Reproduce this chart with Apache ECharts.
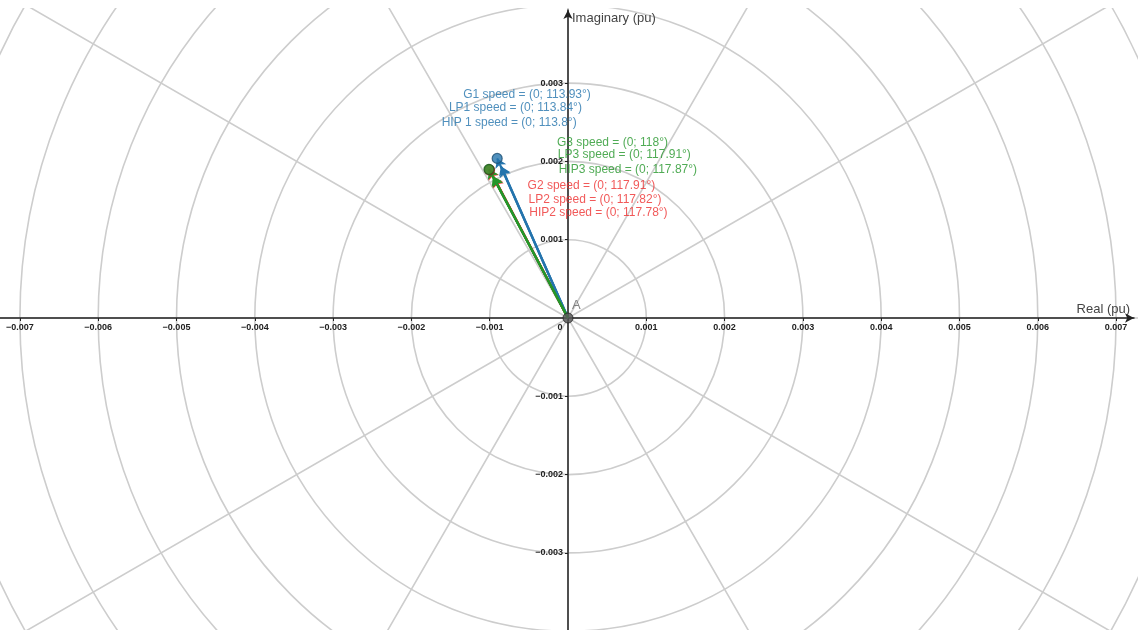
<!DOCTYPE html>
<html>
<head>
<meta charset="utf-8">
<script src="https://cdn.jsdelivr.net/npm/echarts@6/dist/echarts.min.js"></script>
<style>
  html, body { margin: 0; padding: 0; background: #fff; }
  #chart { width: 1138px; height: 630px; }
</style>
</head>
<body>
<div id="chart"></div>
<script>
// phasor names, angles (deg) and magnitudes (pu)
const names      = ['G1', 'LP1', 'HIP 1', 'G2', 'LP2', 'HIP2', 'G3', 'LP3', 'HIP3'];
const angles     = [113.93, 113.84, 113.8, 117.91, 117.82, 117.78, 118, 117.91, 117.87];
const magnitudes = [0.00223, 0.00212, 0.00210, 0.00214, 0.00204, 0.00202, 0.00215, 0.00205, 0.00203];
const groups     = [0, 0, 0, 1, 1, 1, 2, 2, 2];
const pointNames = ['G2', 'G1', 'G3'];

const xTicks = [-0.007, -0.006, -0.005, -0.004, -0.003, -0.002, -0.001, 0, 0.001, 0.002, 0.003, 0.004, 0.005, 0.006, 0.007];
const yTicks = [-0.003, -0.002, -0.001, 0.001, 0.002, 0.003];

// layout / style
const colors = ['#2474ad', '#ee2f2f', '#24962a'];
const dark   = ['#1d4f73', '#8a1f1f', '#1d5a1d'];
const captionOffsets = [[-34, -64], [-52, -58], [-60, -45], [38, 16], [35, 23], [35, 35], [68, -27], [65, -21], [65, -8]];
const W = 1138, H = 630, OX = 568, OY = 318, PX = 78300; // px per pu
const gridRight = 4, gridTop = 10;
const FONT = 'Liberation Sans, Arial, sans-serif';

const tips = names.map((n, i) => {
    const a = angles[i] * Math.PI / 180;
    return [magnitudes[i] * Math.cos(a), magnitudes[i] * Math.sin(a)];
});

const fmt = v => v === 0 ? '{z|0}' : (v < 0 ? '\u2212' : '') + Math.abs(v).toFixed(3);

const chart = echarts.init(document.getElementById('chart'));

// draw order: red, blue, green
const order = [3, 4, 5, 0, 1, 2, 6, 7, 8];

chart.setOption({
    animation: false,
    backgroundColor: '#fff',
    polar: { center: [OX, OY], radius: 0.009 * PX },
    angleAxis: {
        type: 'value', min: 0, max: 360, interval: 30,
        startAngle: 0, clockwise: false, z: 0,
        axisLine: { show: false }, axisTick: { show: false }, axisLabel: { show: false },
        splitLine: { show: true, lineStyle: { color: '#cdcdcd', width: 1.6 } }
    },
    radiusAxis: {
        type: 'value', min: 0, max: 0.009, interval: 0.001, z: 0,
        axisLine: { show: false }, axisTick: { show: false }, axisLabel: { show: false },
        splitLine: { show: true, lineStyle: { color: '#cdcdcd', width: 1.6 } }
    },
    graphic: [{
        type: 'rect', z: 1, silent: true,
        shape: { x: 0, y: 0, width: W, height: 8 },
        style: { fill: '#fff' }
    }],
    grid: { left: 0, right: gridRight, top: gridTop, bottom: 0, containLabel: false, outerBoundsMode: 'none' },
    xAxis: {
        type: 'value', z: 2, position: 'bottom', offset: -(H - OY),
        min: -OX / PX, max: (W - gridRight - OX) / PX,
        name: 'Real (pu)', nameLocation: 'end', nameGap: -4,
        nameTextStyle: { align: 'right', verticalAlign: 'bottom', fontFamily: FONT, fontSize: 13, color: '#444', padding: [0, 0, 2, 0] },
        axisLine: { onZero: false, lineStyle: { color: '#222', width: 1.5 }, symbol: ['none', 'arrow'], symbolSize: [7, 9] },
        axisTick: { show: true, length: 3, customValues: xTicks, lineStyle: { color: '#222' } },
        splitLine: { show: false },
        axisLabel: {
            customValues: xTicks, margin: 5, formatter: fmt,
            fontFamily: FONT, fontSize: 9, fontWeight: 'bold', color: '#222',
            rich: { z: { fontFamily: FONT, fontSize: 9, fontWeight: 'bold', color: '#222', padding: [0, 16, 0, 0] } }
        }
    },
    yAxis: {
        type: 'value', z: 2, position: 'left', offset: -OX,
        min: -(H - OY) / PX, max: (OY - gridTop) / PX,
        name: 'Imaginary (pu)', nameLocation: 'end', nameGap: -8,
        nameTextStyle: { align: 'left', verticalAlign: 'middle', fontFamily: FONT, fontSize: 13, color: '#444', padding: [0, 0, 0, 4] },
        axisLine: { onZero: false, lineStyle: { color: '#222', width: 1.5 }, symbol: ['none', 'arrow'], symbolSize: [7, 9] },
        axisTick: { show: true, length: 3, customValues: yTicks, lineStyle: { color: '#222' } },
        splitLine: { show: false },
        axisLabel: {
            customValues: yTicks, margin: 5, formatter: fmt,
            fontFamily: FONT, fontSize: 9, fontWeight: 'bold', color: '#222'
        }
    },
    series: [
        {
            type: 'lines', coordinateSystem: 'cartesian2d', z: 3,
            symbol: ['none', 'arrow'], symbolSize: 9, silent: true,
            data: order.map(i => ({
                coords: [[0, 0], tips[i]],
                lineStyle: { color: colors[groups[i]], width: 2.2, opacity: 1 }
            }))
        },
        {
            type: 'scatter', z: 4, symbolSize: 10, silent: true,
            data: pointNames.map(n => {
                const i = names.indexOf(n);
                return {
                    value: tips[i],
                    itemStyle: { color: colors[groups[i]], borderColor: dark[groups[i]], borderWidth: 1.2 }
                };
            })
        },
        {
            type: 'scatter', z: 5, symbolSize: 10, silent: true,
            data: [{ value: [0, 0] }],
            itemStyle: { color: '#5a5a5a', borderColor: '#222', borderWidth: 1 },
            label: {
                show: true, formatter: 'A', position: 'inside', align: 'left', verticalAlign: 'middle',
                offset: [4, -13], fontFamily: FONT, fontSize: 13, color: '#666'
            }
        },
        {
            type: 'scatter', z: 6, symbolSize: 1, silent: true,
            itemStyle: { color: 'transparent' },
            data: names.map((n, i) => ({
                value: tips[i],
                label: {
                    show: true, position: 'inside', align: 'left', verticalAlign: 'middle',
                    offset: captionOffsets[i],
                    formatter: n + ' speed = (0; ' + angles[i] + '\u00b0)',
                    fontFamily: FONT, fontSize: 12, color: colors[groups[i]]
                }
            }))
        }
    ]
});
</script>
</body>
</html>
